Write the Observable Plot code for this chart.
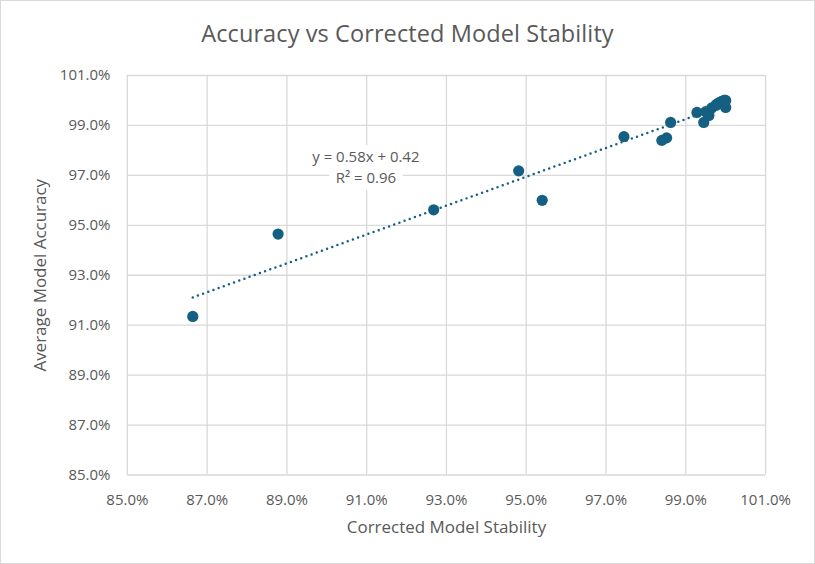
<!DOCTYPE html>
<html>
<head>
<meta charset="utf-8">
<script src="https://cdn.jsdelivr.net/npm/d3@7"></script>
<script src="https://cdn.jsdelivr.net/npm/@observablehq/plot@0.6"></script>
<style>
  html, body { margin: 0; padding: 0; background: #fff; }
  #chart {
    position: relative; width: 815px; height: 564px; box-sizing: border-box;
    border: 1px solid #d9d9d9; background: #fff; overflow: hidden;
    font-family: "Open Sans", "Noto Sans", sans-serif;
  }
  #title {
    position: absolute; left: 0; top: 0; width: 813px; height: 59px;
    text-align: center; line-height: 64px; font-size: 23.5px; color: #595959;
    letter-spacing: 0.1px;
  }
  #plot { position: absolute; left: -1px; top: 59px; }
</style>
</head>
<body>
<div id="chart">
  <div id="title">Accuracy vs Corrected Model Stability</div>
  <div id="plot"></div>
</div>
<script>
// Corrected Model Stability (%)
const stability = [86.64, 88.78, 92.68, 94.81, 95.40, 97.45, 98.40, 98.52, 98.62,
  99.28, 99.45, 99.50, 99.58, 99.65, 99.75, 99.82, 99.90, 99.97, 100.00,
  99.78, 99.85, 99.92, 99.97, 100.00];
// Average Model Accuracy (%)
const accuracy = [91.35, 94.65, 95.62, 97.18, 96.00, 98.55, 98.40, 98.50, 99.12,
  99.52, 99.12, 99.55, 99.40, 99.70, 99.80, 99.88, 99.95, 100.00, 99.72,
  99.85, 99.92, 99.97, 100.00, 100.00];
const axisTicks = [85, 87, 89, 91, 93, 95, 97, 99, 101];
const trendLabel = ["y = 0.58x + 0.42", "R² = 0.96"];
const labelPos = {x: 90.98, y: 97.37};

const data = stability.map((s, i) => ({x: s, y: accuracy[i]}));
const fmt = d => d.toFixed(1) + "%";
const grey = "#595959";
const blue = "#156082";

const chart = Plot.plot({
  width: 815,
  height: 505,
  marginLeft: 127,
  marginRight: 49,
  marginTop: 15,
  marginBottom: 90,
  style: {fontFamily: '"Open Sans", "Noto Sans", sans-serif', fontSize: "15px", color: grey, background: "#fff"},
  x: {domain: [85, 101], ticks: axisTicks, tickFormat: fmt, tickSize: 0, label: null},
  y: {domain: [85, 101], ticks: axisTicks, tickFormat: fmt, tickSize: 0, label: null},
  marks: [
    Plot.gridX(axisTicks, {stroke: "#d9d9d9", strokeOpacity: 1, strokeWidth: 1.3}),
    Plot.gridY(axisTicks, {stroke: "#d9d9d9", strokeOpacity: 1, strokeWidth: 1.3}),
    Plot.axisX({ticks: axisTicks, tickFormat: fmt, tickSize: 0, tickPadding: 19, fontSize: 15, fill: grey}),
    Plot.axisY({ticks: axisTicks, tickFormat: fmt, tickSize: 0, tickPadding: 17, fontSize: 15, fill: grey}),
    Plot.text([trendLabel.join("\n")], {
      x: labelPos.x, y: labelPos.y, text: d => d, fontSize: 15, fill: grey,
      lineHeight: 1.4, stroke: "white", strokeWidth: 16, strokeLinejoin: "miter", paintOrder: "stroke"
    }),
    Plot.linearRegressionY(data, {
      x: "x", y: "y", ci: 0, stroke: blue, strokeWidth: 2.5,
      strokeDasharray: "0,5.5", strokeLinecap: "round"
    }),
    Plot.dot(data, {x: "x", y: "y", r: 5.6, fill: blue, stroke: "none"}),
    Plot.text(["Corrected Model Stability"], {
      frameAnchor: "bottom", dy: 53, text: d => d, fontSize: 17, fill: grey, lineAnchor: "middle", textAnchor: "middle"
    }),
    Plot.text(["Average Model Accuracy"], {
      frameAnchor: "left", dx: -87, rotate: -90, text: d => d, fontSize: 17, fill: grey, lineAnchor: "middle", textAnchor: "middle"
    })
  ]
});
document.getElementById("plot").appendChild(chart);
</script>
</body>
</html>
